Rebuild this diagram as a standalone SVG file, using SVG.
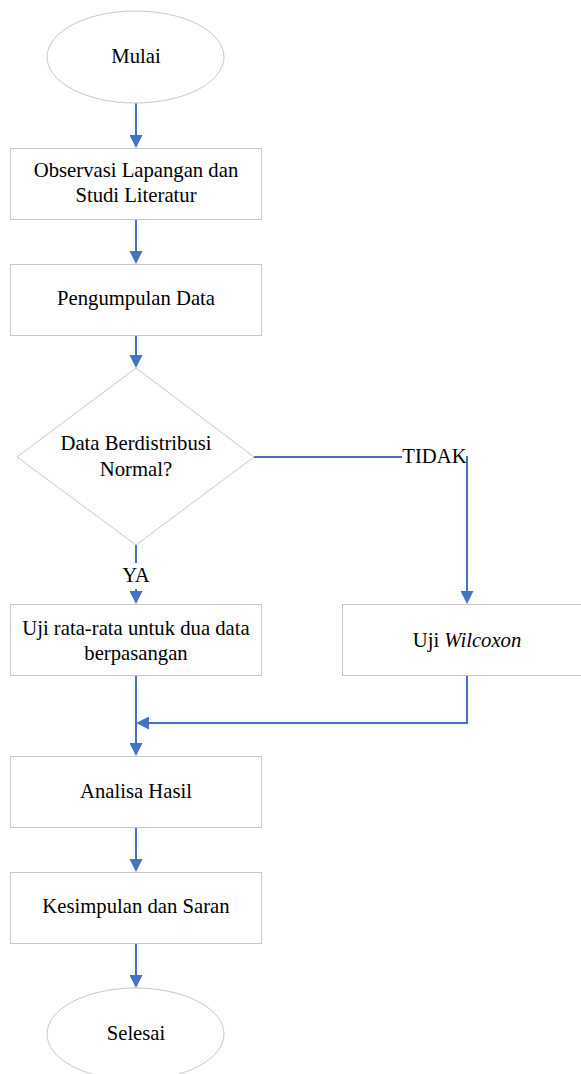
<svg xmlns="http://www.w3.org/2000/svg" width="581" height="1074" viewBox="0 0 581 1074">
<defs>
<marker id="ah" markerWidth="13" markerHeight="13" refX="7" refY="6.5" orient="auto" markerUnits="userSpaceOnUse">
<path d="M0,0 L13,6.5 L0,13 Z" fill="#4472C4"/>
</marker>
<style>
.n{fill:#fff;stroke:#c8c8c8;stroke-width:1}
.t{font-family:"Liberation Serif","Times New Roman",serif;font-size:20.7px;fill:#000;text-anchor:middle}
.c{fill:none;stroke:#4472C4;stroke-width:2}
</style>
</defs>
<rect width="581" height="1074" fill="#fff"/>
<g id="connectors">
<line class="c" x1="136" y1="103" x2="136" y2="142" marker-end="url(#ah)"/>
<line class="c" x1="136" y1="219" x2="136" y2="258" marker-end="url(#ah)"/>
<line class="c" x1="136" y1="335" x2="136" y2="362" marker-end="url(#ah)"/>
<line class="c" x1="136" y1="545" x2="136" y2="563"/>
<line class="c" x1="136" y1="589" x2="136" y2="598" marker-end="url(#ah)"/>
<polyline class="c" points="254,457 402,457"/>
<line class="c" x1="467" y1="456" x2="467" y2="598" marker-end="url(#ah)"/>
<line class="c" x1="136" y1="676" x2="136" y2="750" marker-end="url(#ah)"/>
<polyline class="c" points="467,676 467,723 142,723" marker-end="url(#ah)"/>
<line class="c" x1="136" y1="827" x2="136" y2="866" marker-end="url(#ah)"/>
<line class="c" x1="136" y1="943" x2="136" y2="982" marker-end="url(#ah)"/>
<text class="t" x="136" y="582">YA</text>
<text class="t" x="434.5" y="463">TIDAK</text>
</g>
<g id="mulai"><ellipse class="n" cx="135.5" cy="57" rx="88.5" ry="46"/><text class="t" x="136" y="63">Mulai</text></g>
<g id="observasi"><rect class="n" x="10.5" y="148.5" width="251" height="71"/><text class="t" x="136" y="177">Observasi Lapangan dan</text><text class="t" x="136" y="202">Studi Literatur</text></g>
<g id="pengumpulan"><rect class="n" x="10.5" y="264.5" width="251" height="71"/><text class="t" x="136" y="305">Pengumpulan Data</text></g>
<g id="keputusan"><polygon class="n" points="136,368 254,457 136,545 17,457"/><text class="t" x="136" y="450">Data Berdistribusi</text><text class="t" x="136" y="476">Normal?</text></g>
<g id="ujirata"><rect class="n" x="10.5" y="604.5" width="251" height="71"/><text class="t" x="136" y="635">Uji rata-rata untuk dua data</text><text class="t" x="136" y="660">berpasangan</text></g>
<g id="wilcoxon"><rect class="n" x="342.5" y="604.5" width="245" height="71"/><text class="t" x="467" y="647">Uji <tspan font-style="italic">Wilcoxon</tspan></text></g>
<g id="analisa"><rect class="n" x="10.5" y="756.5" width="251" height="71"/><text class="t" x="136" y="798">Analisa Hasil</text></g>
<g id="kesimpulan"><rect class="n" x="10.5" y="872.5" width="251" height="71"/><text class="t" x="136" y="913">Kesimpulan dan Saran</text></g>
<g id="selesai"><ellipse class="n" cx="135.5" cy="1034" rx="88.5" ry="46"/><text class="t" x="136" y="1040">Selesai</text></g>
</svg>
